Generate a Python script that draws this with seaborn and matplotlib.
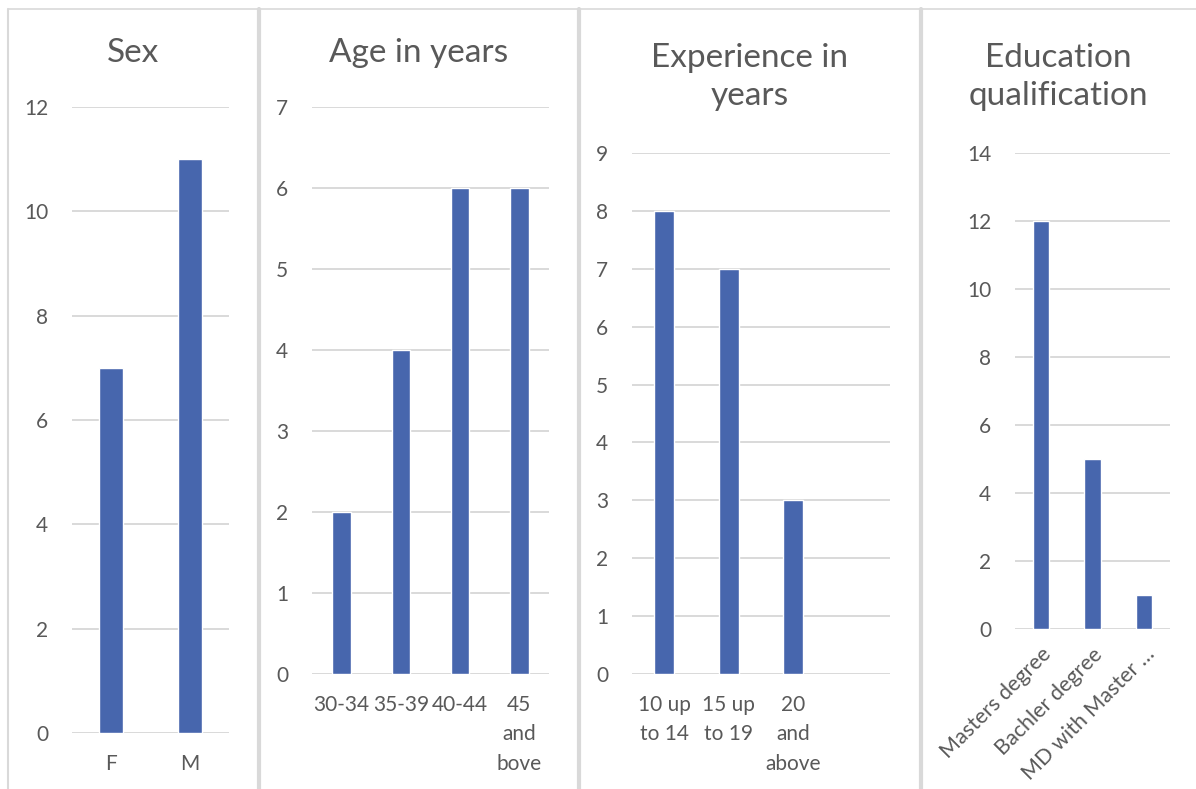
import matplotlib
matplotlib.use("Agg")
import matplotlib.pyplot as plt
from matplotlib.lines import Line2D
import seaborn as sns
import pandas as pd

# Survey respondent profile
sex_labels = ["F", "M"]
sex_counts = [7, 11]

age_labels = ["30-34", "35-39", "40-44", "45\nand\nbove"]
age_counts = [2, 4, 6, 6]

exp_labels = ["10 up\nto 14", "15 up\nto 19", "20\nand\nabove"]
exp_counts = [8, 7, 3]

edu_labels = ["Masters degree", "Bachler degree", "MD with Master \u2026"]
edu_counts = [12, 5, 1]

BAR = "#4766AD"
GRID = "#D9D9D9"
TEXT = "#595959"

sns.set_theme(style="white")
plt.rcParams["font.family"] = ["Lato", "DejaVu Sans"]

W, H = 1196, 789
fig = plt.figure(figsize=(W / 100, H / 100), dpi=100)
fig.patch.set_facecolor("white")


def px_axes(x0, x1, ytop, ybot):
    return fig.add_axes([x0 / W, 1 - ybot / H, (x1 - x0) / W, (ybot - ytop) / H])


def panel(ax, labels, counts, ymax, step, title, title_y, frame, slots=None, rotate=False):
    df = pd.DataFrame({"cat": labels, "n": counts})
    sns.barplot(data=df, x="cat", y="n", color=BAR, saturation=1, width=0.31, ax=ax)
    n = slots if slots is not None else len(labels)
    ax.set_xlim(-0.5, n - 0.5)
    ax.set_ylim(0, ymax)
    ax.set_yticks(range(0, ymax + 1, step))
    ax.yaxis.grid(True, color=GRID, linewidth=1.4)
    ax.set_axisbelow(True)
    for s in ax.spines.values():
        s.set_visible(False)
    ax.set_xlabel("")
    ax.set_ylabel("")
    ax.tick_params(axis="y", length=0, pad=17, labelsize=15, labelcolor=TEXT)
    ax.tick_params(axis="x", length=0, pad=15, labelsize=15, labelcolor=TEXT)
    if rotate:
        ax.set_xticks(range(len(labels)))
        ax.set_xticklabels(labels, rotation=45, ha="right", rotation_mode="anchor",
                           fontsize=15.5)
        ax.tick_params(axis="x", pad=11)
    else:
        for t in ax.get_xticklabels():
            t.set_linespacing(1.6)
            t.set_va("top")
    cx = (frame[0] + frame[1]) / 2 / W
    fig.text(cx, 1 - title_y / H, title, ha="center", va="center",
             fontsize=24, color=TEXT, linespacing=1.3)


ax1 = px_axes(72, 229, 107, 733)
panel(ax1, sex_labels, sex_counts, 12, 2, "Sex", 53, (8, 259))

ax2 = px_axes(312, 549, 107, 674)
panel(ax2, age_labels, age_counts, 7, 1, "Age in years", 53, (259, 579))

ax3 = px_axes(632, 890, 153, 674)
panel(ax3, exp_labels, exp_counts, 9, 1, "Experience in\nyears", 77, (579, 920),
      slots=4)

ax4 = px_axes(1015, 1170, 153, 629)
panel(ax4, edu_labels, edu_counts, 14, 2, "Education\nqualification", 77, (920, 1196),
      rotate=True)

# Chart-area frames around each panel
def fline(xs, ys, lw):
    fig.add_artist(Line2D([x / W for x in xs], [1 - y / H for y in ys],
                          color=GRID, linewidth=lw, transform=fig.transFigure))

fline([8, W], [9, 9], 1.2)
fline([8, 8], [9, H], 1.5)
for x in (259, 579, 920.5):
    fline([x, x], [9, H], 3.0)

fig.savefig("out.png", dpi=100, facecolor="white")
